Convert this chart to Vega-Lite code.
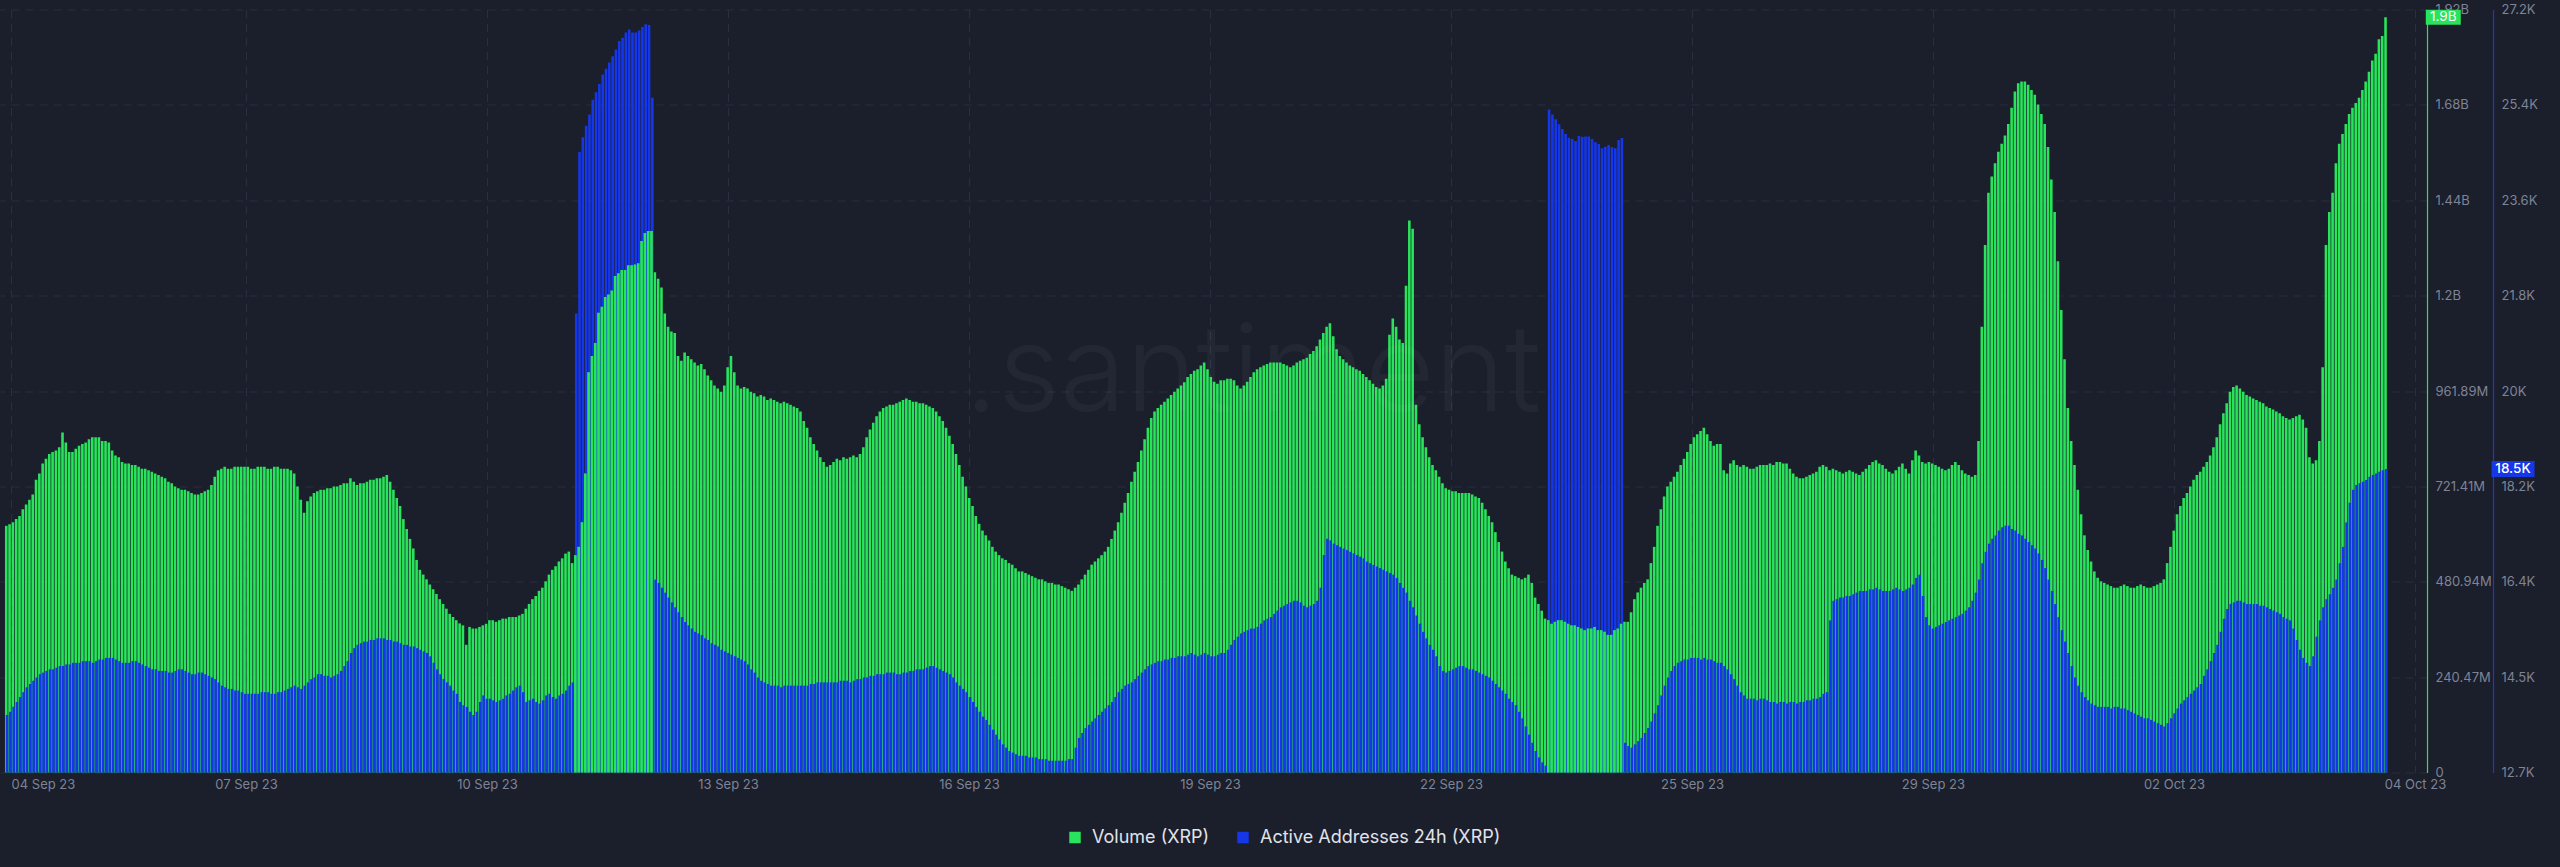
{
"$schema":"https://vega.github.io/schema/vega-lite/v6.json",
"width":2427,"height":763,
"autosize":{"type":"none"},
"padding":{"left":0,"top":9.5,"right":133,"bottom":94.5},
"background":"#1b1e2b",
"config":{"view":{"stroke":null},"font":"Inter",
 "legend":{"orient":"none","legendX":1066,"legendY":819,"direction":"horizontal","symbolType":"square","symbolSize":132,"symbolStrokeWidth":0,"labelFontSize":18,"labelColor":"#e0e3ea","labelFont":"Inter","labelLimit":400,"columnPadding":24,"labelOffset":8}},
"data":{"values":[
{"t":"2023-09-04T00:00","vol":622,"aa":13827},{"t":"2023-09-04T01:00","vol":626,"aa":13889},{"t":"2023-09-04T02:00","vol":631,"aa":13982},{"t":"2023-09-04T03:00","vol":639,"aa":14075},{"t":"2023-09-04T04:00","vol":647,"aa":14168},{"t":"2023-09-04T05:00","vol":664,"aa":14261},{"t":"2023-09-04T06:00","vol":676,"aa":14354},{"t":"2023-09-04T07:00","vol":688,"aa":14416},{"t":"2023-09-04T08:00","vol":701,"aa":14478},{"t":"2023-09-04T09:00","vol":738,"aa":14540},{"t":"2023-09-04T10:00","vol":754,"aa":14602},{"t":"2023-09-04T11:00","vol":779,"aa":14633},{"t":"2023-09-04T12:00","vol":791,"aa":14664},{"t":"2023-09-04T13:00","vol":803,"aa":14695},{"t":"2023-09-04T14:00","vol":808,"aa":14695},{"t":"2023-09-04T15:00","vol":812,"aa":14726},{"t":"2023-09-04T16:00","vol":820,"aa":14757},{"t":"2023-09-04T17:00","vol":857,"aa":14757},{"t":"2023-09-04T18:00","vol":832,"aa":14788},{"t":"2023-09-04T19:00","vol":808,"aa":14788},{"t":"2023-09-04T20:00","vol":808,"aa":14819},{"t":"2023-09-04T21:00","vol":816,"aa":14819},{"t":"2023-09-04T22:00","vol":824,"aa":14819},{"t":"2023-09-04T23:00","vol":828,"aa":14850},
{"t":"2023-09-05T00:00","vol":832,"aa":14850},{"t":"2023-09-05T01:00","vol":840,"aa":14850},{"t":"2023-09-05T02:00","vol":845,"aa":14819},{"t":"2023-09-05T03:00","vol":845,"aa":14850},{"t":"2023-09-05T04:00","vol":845,"aa":14881},{"t":"2023-09-05T05:00","vol":836,"aa":14881},{"t":"2023-09-05T06:00","vol":836,"aa":14912},{"t":"2023-09-05T07:00","vol":832,"aa":14912},{"t":"2023-09-05T08:00","vol":812,"aa":14912},{"t":"2023-09-05T09:00","vol":799,"aa":14881},{"t":"2023-09-05T10:00","vol":795,"aa":14850},{"t":"2023-09-05T11:00","vol":783,"aa":14819},{"t":"2023-09-05T12:00","vol":779,"aa":14819},{"t":"2023-09-05T13:00","vol":779,"aa":14819},{"t":"2023-09-05T14:00","vol":775,"aa":14850},{"t":"2023-09-05T15:00","vol":775,"aa":14850},{"t":"2023-09-05T16:00","vol":771,"aa":14819},{"t":"2023-09-05T17:00","vol":766,"aa":14788},{"t":"2023-09-05T18:00","vol":766,"aa":14757},{"t":"2023-09-05T19:00","vol":762,"aa":14726},{"t":"2023-09-05T20:00","vol":758,"aa":14695},{"t":"2023-09-05T21:00","vol":754,"aa":14695},{"t":"2023-09-05T22:00","vol":750,"aa":14664},{"t":"2023-09-05T23:00","vol":746,"aa":14664},
{"t":"2023-09-06T00:00","vol":742,"aa":14664},{"t":"2023-09-06T01:00","vol":733,"aa":14633},{"t":"2023-09-06T02:00","vol":729,"aa":14633},{"t":"2023-09-06T03:00","vol":721,"aa":14664},{"t":"2023-09-06T04:00","vol":717,"aa":14695},{"t":"2023-09-06T05:00","vol":713,"aa":14695},{"t":"2023-09-06T06:00","vol":713,"aa":14664},{"t":"2023-09-06T07:00","vol":709,"aa":14633},{"t":"2023-09-06T08:00","vol":705,"aa":14602},{"t":"2023-09-06T09:00","vol":701,"aa":14602},{"t":"2023-09-06T10:00","vol":701,"aa":14633},{"t":"2023-09-06T11:00","vol":705,"aa":14633},{"t":"2023-09-06T12:00","vol":709,"aa":14602},{"t":"2023-09-06T13:00","vol":713,"aa":14571},{"t":"2023-09-06T14:00","vol":725,"aa":14540},{"t":"2023-09-06T15:00","vol":746,"aa":14509},{"t":"2023-09-06T16:00","vol":762,"aa":14447},{"t":"2023-09-06T17:00","vol":766,"aa":14385},{"t":"2023-09-06T18:00","vol":771,"aa":14354},{"t":"2023-09-06T19:00","vol":766,"aa":14323},{"t":"2023-09-06T20:00","vol":766,"aa":14323},{"t":"2023-09-06T21:00","vol":771,"aa":14292},{"t":"2023-09-06T22:00","vol":771,"aa":14292},{"t":"2023-09-06T23:00","vol":771,"aa":14261},
{"t":"2023-09-07T00:00","vol":771,"aa":14230},{"t":"2023-09-07T01:00","vol":771,"aa":14230},{"t":"2023-09-07T02:00","vol":766,"aa":14230},{"t":"2023-09-07T03:00","vol":766,"aa":14230},{"t":"2023-09-07T04:00","vol":771,"aa":14230},{"t":"2023-09-07T05:00","vol":771,"aa":14261},{"t":"2023-09-07T06:00","vol":771,"aa":14261},{"t":"2023-09-07T07:00","vol":766,"aa":14261},{"t":"2023-09-07T08:00","vol":766,"aa":14230},{"t":"2023-09-07T09:00","vol":771,"aa":14230},{"t":"2023-09-07T10:00","vol":771,"aa":14261},{"t":"2023-09-07T11:00","vol":766,"aa":14261},{"t":"2023-09-07T12:00","vol":766,"aa":14292},{"t":"2023-09-07T13:00","vol":766,"aa":14323},{"t":"2023-09-07T14:00","vol":762,"aa":14354},{"t":"2023-09-07T15:00","vol":754,"aa":14385},{"t":"2023-09-07T16:00","vol":721,"aa":14354},{"t":"2023-09-07T17:00","vol":688,"aa":14323},{"t":"2023-09-07T18:00","vol":655,"aa":14385},{"t":"2023-09-07T19:00","vol":684,"aa":14447},{"t":"2023-09-07T20:00","vol":696,"aa":14509},{"t":"2023-09-07T21:00","vol":705,"aa":14540},{"t":"2023-09-07T22:00","vol":709,"aa":14602},{"t":"2023-09-07T23:00","vol":713,"aa":14602},
{"t":"2023-09-08T00:00","vol":713,"aa":14571},{"t":"2023-09-08T01:00","vol":717,"aa":14571},{"t":"2023-09-08T02:00","vol":717,"aa":14540},{"t":"2023-09-08T03:00","vol":721,"aa":14571},{"t":"2023-09-08T04:00","vol":721,"aa":14602},{"t":"2023-09-08T05:00","vol":725,"aa":14664},{"t":"2023-09-08T06:00","vol":729,"aa":14757},{"t":"2023-09-08T07:00","vol":729,"aa":14850},{"t":"2023-09-08T08:00","vol":742,"aa":15005},{"t":"2023-09-08T09:00","vol":733,"aa":15098},{"t":"2023-09-08T10:00","vol":725,"aa":15160},{"t":"2023-09-08T11:00","vol":729,"aa":15191},{"t":"2023-09-08T12:00","vol":729,"aa":15222},{"t":"2023-09-08T13:00","vol":733,"aa":15222},{"t":"2023-09-08T14:00","vol":738,"aa":15253},{"t":"2023-09-08T15:00","vol":738,"aa":15253},{"t":"2023-09-08T16:00","vol":742,"aa":15284},{"t":"2023-09-08T17:00","vol":742,"aa":15284},{"t":"2023-09-08T18:00","vol":746,"aa":15284},{"t":"2023-09-08T19:00","vol":750,"aa":15253},{"t":"2023-09-08T20:00","vol":733,"aa":15253},{"t":"2023-09-08T21:00","vol":713,"aa":15222},{"t":"2023-09-08T22:00","vol":692,"aa":15222},{"t":"2023-09-08T23:00","vol":672,"aa":15191},
{"t":"2023-09-09T00:00","vol":639,"aa":15160},{"t":"2023-09-09T01:00","vol":614,"aa":15160},{"t":"2023-09-09T02:00","vol":589,"aa":15129},{"t":"2023-09-09T03:00","vol":565,"aa":15129},{"t":"2023-09-09T04:00","vol":536,"aa":15098},{"t":"2023-09-09T05:00","vol":511,"aa":15067},{"t":"2023-09-09T06:00","vol":499,"aa":15036},{"t":"2023-09-09T07:00","vol":487,"aa":15005},{"t":"2023-09-09T08:00","vol":474,"aa":14943},{"t":"2023-09-09T09:00","vol":462,"aa":14819},{"t":"2023-09-09T10:00","vol":450,"aa":14695},{"t":"2023-09-09T11:00","vol":437,"aa":14602},{"t":"2023-09-09T12:00","vol":425,"aa":14509},{"t":"2023-09-09T13:00","vol":413,"aa":14447},{"t":"2023-09-09T14:00","vol":400,"aa":14385},{"t":"2023-09-09T15:00","vol":392,"aa":14292},{"t":"2023-09-09T16:00","vol":384,"aa":14230},{"t":"2023-09-09T17:00","vol":376,"aa":14075},{"t":"2023-09-09T18:00","vol":371,"aa":14013},{"t":"2023-09-09T19:00","vol":322,"aa":13982},{"t":"2023-09-09T20:00","vol":367,"aa":13889},{"t":"2023-09-09T21:00","vol":363,"aa":13827},{"t":"2023-09-09T22:00","vol":363,"aa":13889},{"t":"2023-09-09T23:00","vol":367,"aa":14075},
{"t":"2023-09-10T00:00","vol":371,"aa":14199},{"t":"2023-09-10T01:00","vol":375,"aa":14137},{"t":"2023-09-10T02:00","vol":384,"aa":14137},{"t":"2023-09-10T03:00","vol":384,"aa":14106},{"t":"2023-09-10T04:00","vol":380,"aa":14075},{"t":"2023-09-10T05:00","vol":384,"aa":14106},{"t":"2023-09-10T06:00","vol":388,"aa":14137},{"t":"2023-09-10T07:00","vol":388,"aa":14199},{"t":"2023-09-10T08:00","vol":392,"aa":14230},{"t":"2023-09-10T09:00","vol":392,"aa":14292},{"t":"2023-09-10T10:00","vol":392,"aa":14354},{"t":"2023-09-10T11:00","vol":396,"aa":14385},{"t":"2023-09-10T12:00","vol":400,"aa":14261},{"t":"2023-09-10T13:00","vol":413,"aa":14075},{"t":"2023-09-10T14:00","vol":425,"aa":14106},{"t":"2023-09-10T15:00","vol":437,"aa":14137},{"t":"2023-09-10T16:00","vol":445,"aa":14075},{"t":"2023-09-10T17:00","vol":458,"aa":14044},{"t":"2023-09-10T18:00","vol":466,"aa":14106},{"t":"2023-09-10T19:00","vol":482,"aa":14199},{"t":"2023-09-10T20:00","vol":499,"aa":14230},{"t":"2023-09-10T21:00","vol":511,"aa":14168},{"t":"2023-09-10T22:00","vol":520,"aa":14137},{"t":"2023-09-10T23:00","vol":532,"aa":14199},
{"t":"2023-09-11T00:00","vol":540,"aa":14230},{"t":"2023-09-11T01:00","vol":552,"aa":14292},{"t":"2023-09-11T02:00","vol":557,"aa":14385},{"t":"2023-09-11T03:00","vol":528,"aa":14447},{"t":"2023-09-11T04:00","vol":548,"aa":21455},{"t":"2023-09-11T05:00","vol":569,"aa":24525},{"t":"2023-09-11T06:00","vol":631,"aa":24804},{"t":"2023-09-11T07:00","vol":754,"aa":25021},{"t":"2023-09-11T08:00","vol":1009,"aa":25238},{"t":"2023-09-11T09:00","vol":1050,"aa":25517},{"t":"2023-09-11T10:00","vol":1083,"aa":25657},{"t":"2023-09-11T11:00","vol":1159,"aa":25815},{"t":"2023-09-11T12:00","vol":1174,"aa":25998},{"t":"2023-09-11T13:00","vol":1199,"aa":26107},{"t":"2023-09-11T14:00","vol":1205,"aa":26224},{"t":"2023-09-11T15:00","vol":1215,"aa":26345},{"t":"2023-09-11T16:00","vol":1252,"aa":26472},{"t":"2023-09-11T17:00","vol":1259,"aa":26631},{"t":"2023-09-11T18:00","vol":1267,"aa":26693},{"t":"2023-09-11T19:00","vol":1267,"aa":26795},{"t":"2023-09-11T20:00","vol":1279,"aa":26851},{"t":"2023-09-11T21:00","vol":1279,"aa":26795},{"t":"2023-09-11T22:00","vol":1281,"aa":26795},{"t":"2023-09-11T23:00","vol":1284,"aa":26832},
{"t":"2023-09-12T00:00","vol":1340,"aa":26897},{"t":"2023-09-12T01:00","vol":1360,"aa":26953},{"t":"2023-09-12T02:00","vol":1365,"aa":26935},{"t":"2023-09-12T03:00","vol":1365,"aa":25555},{"t":"2023-09-12T04:00","vol":1261,"aa":16400},{"t":"2023-09-12T05:00","vol":1245,"aa":16338},{"t":"2023-09-12T06:00","vol":1223,"aa":16245},{"t":"2023-09-12T07:00","vol":1157,"aa":16152},{"t":"2023-09-12T08:00","vol":1124,"aa":16059},{"t":"2023-09-12T09:00","vol":1112,"aa":15966},{"t":"2023-09-12T10:00","vol":1108,"aa":15873},{"t":"2023-09-12T11:00","vol":1050,"aa":15780},{"t":"2023-09-12T12:00","vol":1038,"aa":15687},{"t":"2023-09-12T13:00","vol":1059,"aa":15594},{"t":"2023-09-12T14:00","vol":1050,"aa":15532},{"t":"2023-09-12T15:00","vol":1042,"aa":15470},{"t":"2023-09-12T16:00","vol":1034,"aa":15408},{"t":"2023-09-12T17:00","vol":1026,"aa":15377},{"t":"2023-09-12T18:00","vol":1030,"aa":15346},{"t":"2023-09-12T19:00","vol":1017,"aa":15284},{"t":"2023-09-12T20:00","vol":1001,"aa":15253},{"t":"2023-09-12T21:00","vol":989,"aa":15191},{"t":"2023-09-12T22:00","vol":976,"aa":15160},{"t":"2023-09-12T23:00","vol":968,"aa":15129},
{"t":"2023-09-13T00:00","vol":960,"aa":15067},{"t":"2023-09-13T01:00","vol":976,"aa":15036},{"t":"2023-09-13T02:00","vol":1022,"aa":15005},{"t":"2023-09-13T03:00","vol":1050,"aa":14974},{"t":"2023-09-13T04:00","vol":1009,"aa":14943},{"t":"2023-09-13T05:00","vol":976,"aa":14912},{"t":"2023-09-13T06:00","vol":968,"aa":14881},{"t":"2023-09-13T07:00","vol":972,"aa":14850},{"t":"2023-09-13T08:00","vol":968,"aa":14788},{"t":"2023-09-13T09:00","vol":960,"aa":14695},{"t":"2023-09-13T10:00","vol":956,"aa":14633},{"t":"2023-09-13T11:00","vol":948,"aa":14540},{"t":"2023-09-13T12:00","vol":952,"aa":14478},{"t":"2023-09-13T13:00","vol":948,"aa":14447},{"t":"2023-09-13T14:00","vol":939,"aa":14416},{"t":"2023-09-13T15:00","vol":943,"aa":14385},{"t":"2023-09-13T16:00","vol":939,"aa":14385},{"t":"2023-09-13T17:00","vol":935,"aa":14385},{"t":"2023-09-13T18:00","vol":931,"aa":14354},{"t":"2023-09-13T19:00","vol":935,"aa":14385},{"t":"2023-09-13T20:00","vol":931,"aa":14385},{"t":"2023-09-13T21:00","vol":927,"aa":14385},{"t":"2023-09-13T22:00","vol":923,"aa":14385},{"t":"2023-09-13T23:00","vol":919,"aa":14385},
{"t":"2023-09-14T00:00","vol":910,"aa":14385},{"t":"2023-09-14T01:00","vol":886,"aa":14385},{"t":"2023-09-14T02:00","vol":869,"aa":14385},{"t":"2023-09-14T03:00","vol":845,"aa":14416},{"t":"2023-09-14T04:00","vol":828,"aa":14416},{"t":"2023-09-14T05:00","vol":812,"aa":14447},{"t":"2023-09-14T06:00","vol":795,"aa":14447},{"t":"2023-09-14T07:00","vol":783,"aa":14447},{"t":"2023-09-14T08:00","vol":771,"aa":14447},{"t":"2023-09-14T09:00","vol":775,"aa":14447},{"t":"2023-09-14T10:00","vol":783,"aa":14447},{"t":"2023-09-14T11:00","vol":791,"aa":14447},{"t":"2023-09-14T12:00","vol":787,"aa":14478},{"t":"2023-09-14T13:00","vol":795,"aa":14478},{"t":"2023-09-14T14:00","vol":791,"aa":14478},{"t":"2023-09-14T15:00","vol":795,"aa":14447},{"t":"2023-09-14T16:00","vol":799,"aa":14478},{"t":"2023-09-14T17:00","vol":795,"aa":14509},{"t":"2023-09-14T18:00","vol":803,"aa":14509},{"t":"2023-09-14T19:00","vol":820,"aa":14540},{"t":"2023-09-14T20:00","vol":845,"aa":14540},{"t":"2023-09-14T21:00","vol":865,"aa":14571},{"t":"2023-09-14T22:00","vol":882,"aa":14571},{"t":"2023-09-14T23:00","vol":898,"aa":14602},
{"t":"2023-09-15T00:00","vol":910,"aa":14602},{"t":"2023-09-15T01:00","vol":919,"aa":14602},{"t":"2023-09-15T02:00","vol":923,"aa":14633},{"t":"2023-09-15T03:00","vol":927,"aa":14633},{"t":"2023-09-15T04:00","vol":927,"aa":14633},{"t":"2023-09-15T05:00","vol":931,"aa":14602},{"t":"2023-09-15T06:00","vol":935,"aa":14602},{"t":"2023-09-15T07:00","vol":939,"aa":14633},{"t":"2023-09-15T08:00","vol":943,"aa":14633},{"t":"2023-09-15T09:00","vol":939,"aa":14664},{"t":"2023-09-15T10:00","vol":935,"aa":14664},{"t":"2023-09-15T11:00","vol":935,"aa":14695},{"t":"2023-09-15T12:00","vol":931,"aa":14695},{"t":"2023-09-15T13:00","vol":931,"aa":14695},{"t":"2023-09-15T14:00","vol":927,"aa":14726},{"t":"2023-09-15T15:00","vol":923,"aa":14757},{"t":"2023-09-15T16:00","vol":919,"aa":14757},{"t":"2023-09-15T17:00","vol":910,"aa":14726},{"t":"2023-09-15T18:00","vol":898,"aa":14695},{"t":"2023-09-15T19:00","vol":886,"aa":14664},{"t":"2023-09-15T20:00","vol":869,"aa":14633},{"t":"2023-09-15T21:00","vol":849,"aa":14602},{"t":"2023-09-15T22:00","vol":828,"aa":14540},{"t":"2023-09-15T23:00","vol":803,"aa":14447},
{"t":"2023-09-16T00:00","vol":775,"aa":14385},{"t":"2023-09-16T01:00","vol":746,"aa":14323},{"t":"2023-09-16T02:00","vol":721,"aa":14261},{"t":"2023-09-16T03:00","vol":692,"aa":14168},{"t":"2023-09-16T04:00","vol":672,"aa":14075},{"t":"2023-09-16T05:00","vol":647,"aa":13982},{"t":"2023-09-16T06:00","vol":627,"aa":13889},{"t":"2023-09-16T07:00","vol":610,"aa":13796},{"t":"2023-09-16T08:00","vol":598,"aa":13734},{"t":"2023-09-16T09:00","vol":585,"aa":13641},{"t":"2023-09-16T10:00","vol":569,"aa":13548},{"t":"2023-09-16T11:00","vol":557,"aa":13455},{"t":"2023-09-16T12:00","vol":548,"aa":13362},{"t":"2023-09-16T13:00","vol":540,"aa":13269},{"t":"2023-09-16T14:00","vol":536,"aa":13207},{"t":"2023-09-16T15:00","vol":528,"aa":13144},{"t":"2023-09-16T16:00","vol":524,"aa":13113},{"t":"2023-09-16T17:00","vol":515,"aa":13082},{"t":"2023-09-16T18:00","vol":507,"aa":13051},{"t":"2023-09-16T19:00","vol":507,"aa":13051},{"t":"2023-09-16T20:00","vol":503,"aa":13051},{"t":"2023-09-16T21:00","vol":499,"aa":13020},{"t":"2023-09-16T22:00","vol":495,"aa":13020},{"t":"2023-09-16T23:00","vol":491,"aa":13020},
{"t":"2023-09-17T00:00","vol":487,"aa":12989},{"t":"2023-09-17T01:00","vol":487,"aa":12989},{"t":"2023-09-17T02:00","vol":482,"aa":12989},{"t":"2023-09-17T03:00","vol":478,"aa":12958},{"t":"2023-09-17T04:00","vol":478,"aa":12958},{"t":"2023-09-17T05:00","vol":474,"aa":12958},{"t":"2023-09-17T06:00","vol":474,"aa":12958},{"t":"2023-09-17T07:00","vol":470,"aa":12958},{"t":"2023-09-17T08:00","vol":466,"aa":12958},{"t":"2023-09-17T09:00","vol":462,"aa":12989},{"t":"2023-09-17T10:00","vol":458,"aa":12989},{"t":"2023-09-17T11:00","vol":466,"aa":13206},{"t":"2023-09-17T12:00","vol":474,"aa":13392},{"t":"2023-09-17T13:00","vol":487,"aa":13486},{"t":"2023-09-17T14:00","vol":499,"aa":13579},{"t":"2023-09-17T15:00","vol":511,"aa":13641},{"t":"2023-09-17T16:00","vol":524,"aa":13703},{"t":"2023-09-17T17:00","vol":532,"aa":13765},{"t":"2023-09-17T18:00","vol":540,"aa":13827},{"t":"2023-09-17T19:00","vol":548,"aa":13889},{"t":"2023-09-17T20:00","vol":557,"aa":13951},{"t":"2023-09-17T21:00","vol":569,"aa":14013},{"t":"2023-09-17T22:00","vol":589,"aa":14075},{"t":"2023-09-17T23:00","vol":610,"aa":14168},
{"t":"2023-09-18T00:00","vol":631,"aa":14261},{"t":"2023-09-18T01:00","vol":655,"aa":14323},{"t":"2023-09-18T02:00","vol":680,"aa":14385},{"t":"2023-09-18T03:00","vol":705,"aa":14416},{"t":"2023-09-18T04:00","vol":733,"aa":14447},{"t":"2023-09-18T05:00","vol":758,"aa":14509},{"t":"2023-09-18T06:00","vol":783,"aa":14571},{"t":"2023-09-18T07:00","vol":812,"aa":14633},{"t":"2023-09-18T08:00","vol":840,"aa":14695},{"t":"2023-09-18T09:00","vol":869,"aa":14757},{"t":"2023-09-18T10:00","vol":894,"aa":14788},{"t":"2023-09-18T11:00","vol":910,"aa":14819},{"t":"2023-09-18T12:00","vol":919,"aa":14850},{"t":"2023-09-18T13:00","vol":927,"aa":14850},{"t":"2023-09-18T14:00","vol":935,"aa":14881},{"t":"2023-09-18T15:00","vol":943,"aa":14881},{"t":"2023-09-18T16:00","vol":952,"aa":14912},{"t":"2023-09-18T17:00","vol":960,"aa":14912},{"t":"2023-09-18T18:00","vol":968,"aa":14943},{"t":"2023-09-18T19:00","vol":976,"aa":14943},{"t":"2023-09-18T20:00","vol":984,"aa":14943},{"t":"2023-09-18T21:00","vol":997,"aa":14974},{"t":"2023-09-18T22:00","vol":1005,"aa":15005},{"t":"2023-09-18T23:00","vol":1013,"aa":14974},
{"t":"2023-09-19T00:00","vol":1017,"aa":14943},{"t":"2023-09-19T01:00","vol":1026,"aa":14974},{"t":"2023-09-19T02:00","vol":1034,"aa":15005},{"t":"2023-09-19T03:00","vol":1017,"aa":14974},{"t":"2023-09-19T04:00","vol":997,"aa":14943},{"t":"2023-09-19T05:00","vol":985,"aa":14943},{"t":"2023-09-19T06:00","vol":980,"aa":14974},{"t":"2023-09-19T07:00","vol":989,"aa":15005},{"t":"2023-09-19T08:00","vol":989,"aa":15005},{"t":"2023-09-19T09:00","vol":993,"aa":15067},{"t":"2023-09-19T10:00","vol":993,"aa":15160},{"t":"2023-09-19T11:00","vol":989,"aa":15253},{"t":"2023-09-19T12:00","vol":976,"aa":15315},{"t":"2023-09-19T13:00","vol":968,"aa":15377},{"t":"2023-09-19T14:00","vol":976,"aa":15408},{"t":"2023-09-19T15:00","vol":985,"aa":15439},{"t":"2023-09-19T16:00","vol":997,"aa":15470},{"t":"2023-09-19T17:00","vol":1009,"aa":15470},{"t":"2023-09-19T18:00","vol":1017,"aa":15501},{"t":"2023-09-19T19:00","vol":1022,"aa":15563},{"t":"2023-09-19T20:00","vol":1026,"aa":15625},{"t":"2023-09-19T21:00","vol":1030,"aa":15656},{"t":"2023-09-19T22:00","vol":1034,"aa":15687},{"t":"2023-09-19T23:00","vol":1034,"aa":15749},
{"t":"2023-09-20T00:00","vol":1034,"aa":15811},{"t":"2023-09-20T01:00","vol":1034,"aa":15873},{"t":"2023-09-20T02:00","vol":1030,"aa":15904},{"t":"2023-09-20T03:00","vol":1026,"aa":15935},{"t":"2023-09-20T04:00","vol":1022,"aa":15966},{"t":"2023-09-20T05:00","vol":1026,"aa":15997},{"t":"2023-09-20T06:00","vol":1034,"aa":15997},{"t":"2023-09-20T07:00","vol":1038,"aa":15966},{"t":"2023-09-20T08:00","vol":1042,"aa":15904},{"t":"2023-09-20T09:00","vol":1046,"aa":15873},{"t":"2023-09-20T10:00","vol":1055,"aa":15904},{"t":"2023-09-20T11:00","vol":1063,"aa":15935},{"t":"2023-09-20T12:00","vol":1075,"aa":15997},{"t":"2023-09-20T13:00","vol":1092,"aa":16245},{"t":"2023-09-20T14:00","vol":1108,"aa":16866},{"t":"2023-09-20T15:00","vol":1124,"aa":17176},{"t":"2023-09-20T16:00","vol":1133,"aa":17145},{"t":"2023-09-20T17:00","vol":1100,"aa":17083},{"t":"2023-09-20T18:00","vol":1067,"aa":17052},{"t":"2023-09-20T19:00","vol":1050,"aa":17021},{"t":"2023-09-20T20:00","vol":1042,"aa":16990},{"t":"2023-09-20T21:00","vol":1034,"aa":16959},{"t":"2023-09-20T22:00","vol":1026,"aa":16928},{"t":"2023-09-20T23:00","vol":1022,"aa":16897},
{"t":"2023-09-21T00:00","vol":1017,"aa":16866},{"t":"2023-09-21T01:00","vol":1013,"aa":16835},{"t":"2023-09-21T02:00","vol":1005,"aa":16804},{"t":"2023-09-21T03:00","vol":997,"aa":16742},{"t":"2023-09-21T04:00","vol":989,"aa":16711},{"t":"2023-09-21T05:00","vol":980,"aa":16680},{"t":"2023-09-21T06:00","vol":972,"aa":16649},{"t":"2023-09-21T07:00","vol":968,"aa":16618},{"t":"2023-09-21T08:00","vol":976,"aa":16587},{"t":"2023-09-21T09:00","vol":993,"aa":16555},{"t":"2023-09-21T10:00","vol":1104,"aa":16524},{"t":"2023-09-21T11:00","vol":1145,"aa":16493},{"t":"2023-09-21T12:00","vol":1124,"aa":16431},{"t":"2023-09-21T13:00","vol":1092,"aa":16338},{"t":"2023-09-21T14:00","vol":1083,"aa":16245},{"t":"2023-09-21T15:00","vol":1227,"aa":16152},{"t":"2023-09-21T16:00","vol":1392,"aa":15997},{"t":"2023-09-21T17:00","vol":1371,"aa":15873},{"t":"2023-09-21T18:00","vol":927,"aa":15718},{"t":"2023-09-21T19:00","vol":878,"aa":15563},{"t":"2023-09-21T20:00","vol":845,"aa":15408},{"t":"2023-09-21T21:00","vol":820,"aa":15284},{"t":"2023-09-21T22:00","vol":795,"aa":15160},{"t":"2023-09-21T23:00","vol":775,"aa":15067},
{"t":"2023-09-22T00:00","vol":762,"aa":14943},{"t":"2023-09-22T01:00","vol":746,"aa":14757},{"t":"2023-09-22T02:00","vol":729,"aa":14664},{"t":"2023-09-22T03:00","vol":717,"aa":14633},{"t":"2023-09-22T04:00","vol":713,"aa":14664},{"t":"2023-09-22T05:00","vol":709,"aa":14695},{"t":"2023-09-22T06:00","vol":709,"aa":14726},{"t":"2023-09-22T07:00","vol":705,"aa":14757},{"t":"2023-09-22T08:00","vol":705,"aa":14757},{"t":"2023-09-22T09:00","vol":705,"aa":14726},{"t":"2023-09-22T10:00","vol":705,"aa":14695},{"t":"2023-09-22T11:00","vol":701,"aa":14695},{"t":"2023-09-22T12:00","vol":696,"aa":14664},{"t":"2023-09-22T13:00","vol":692,"aa":14633},{"t":"2023-09-22T14:00","vol":680,"aa":14602},{"t":"2023-09-22T15:00","vol":664,"aa":14571},{"t":"2023-09-22T16:00","vol":647,"aa":14540},{"t":"2023-09-22T17:00","vol":631,"aa":14478},{"t":"2023-09-22T18:00","vol":606,"aa":14416},{"t":"2023-09-22T19:00","vol":581,"aa":14354},{"t":"2023-09-22T20:00","vol":557,"aa":14292},{"t":"2023-09-22T21:00","vol":532,"aa":14230},{"t":"2023-09-22T22:00","vol":515,"aa":14137},{"t":"2023-09-22T23:00","vol":499,"aa":14075},
{"t":"2023-09-23T00:00","vol":495,"aa":14013},{"t":"2023-09-23T01:00","vol":491,"aa":13889},{"t":"2023-09-23T02:00","vol":487,"aa":13765},{"t":"2023-09-23T03:00","vol":491,"aa":13610},{"t":"2023-09-23T04:00","vol":499,"aa":13455},{"t":"2023-09-23T05:00","vol":478,"aa":13300},{"t":"2023-09-23T06:00","vol":441,"aa":13144},{"t":"2023-09-23T07:00","vol":425,"aa":13020},{"t":"2023-09-23T08:00","vol":408,"aa":12927},{"t":"2023-09-23T09:00","vol":388,"aa":12865},{"t":"2023-09-23T10:00","vol":384,"aa":25332},{"t":"2023-09-23T11:00","vol":375,"aa":25238},{"t":"2023-09-23T12:00","vol":380,"aa":25145},{"t":"2023-09-23T13:00","vol":384,"aa":25052},{"t":"2023-09-23T14:00","vol":384,"aa":24959},{"t":"2023-09-23T15:00","vol":380,"aa":24866},{"t":"2023-09-23T16:00","vol":375,"aa":24795},{"t":"2023-09-23T17:00","vol":371,"aa":24773},{"t":"2023-09-23T18:00","vol":371,"aa":24733},{"t":"2023-09-23T19:00","vol":367,"aa":24826},{"t":"2023-09-23T20:00","vol":363,"aa":24813},{"t":"2023-09-23T21:00","vol":359,"aa":24820},{"t":"2023-09-23T22:00","vol":363,"aa":24820},{"t":"2023-09-23T23:00","vol":363,"aa":24773},
{"t":"2023-09-24T00:00","vol":367,"aa":24711},{"t":"2023-09-24T01:00","vol":359,"aa":24674},{"t":"2023-09-24T02:00","vol":359,"aa":24593},{"t":"2023-09-24T03:00","vol":355,"aa":24624},{"t":"2023-09-24T04:00","vol":347,"aa":24655},{"t":"2023-09-24T05:00","vol":347,"aa":24612},{"t":"2023-09-24T06:00","vol":359,"aa":24593},{"t":"2023-09-24T07:00","vol":363,"aa":24751},{"t":"2023-09-24T08:00","vol":375,"aa":24789},{"t":"2023-09-24T09:00","vol":380,"aa":13300},{"t":"2023-09-24T10:00","vol":380,"aa":13238},{"t":"2023-09-24T11:00","vol":404,"aa":13207},{"t":"2023-09-24T12:00","vol":437,"aa":13269},{"t":"2023-09-24T13:00","vol":454,"aa":13331},{"t":"2023-09-24T14:00","vol":466,"aa":13393},{"t":"2023-09-24T15:00","vol":478,"aa":13486},{"t":"2023-09-24T16:00","vol":487,"aa":13579},{"t":"2023-09-24T17:00","vol":528,"aa":13703},{"t":"2023-09-24T18:00","vol":569,"aa":13858},{"t":"2023-09-24T19:00","vol":622,"aa":14013},{"t":"2023-09-24T20:00","vol":664,"aa":14199},{"t":"2023-09-24T21:00","vol":696,"aa":14385},{"t":"2023-09-24T22:00","vol":721,"aa":14540},{"t":"2023-09-24T23:00","vol":733,"aa":14664},
{"t":"2023-09-25T00:00","vol":746,"aa":14757},{"t":"2023-09-25T01:00","vol":758,"aa":14819},{"t":"2023-09-25T02:00","vol":775,"aa":14850},{"t":"2023-09-25T03:00","vol":791,"aa":14881},{"t":"2023-09-25T04:00","vol":808,"aa":14881},{"t":"2023-09-25T05:00","vol":828,"aa":14912},{"t":"2023-09-25T06:00","vol":845,"aa":14912},{"t":"2023-09-25T07:00","vol":853,"aa":14912},{"t":"2023-09-25T08:00","vol":861,"aa":14881},{"t":"2023-09-25T09:00","vol":869,"aa":14912},{"t":"2023-09-25T10:00","vol":853,"aa":14881},{"t":"2023-09-25T11:00","vol":836,"aa":14881},{"t":"2023-09-25T12:00","vol":824,"aa":14850},{"t":"2023-09-25T13:00","vol":828,"aa":14819},{"t":"2023-09-25T14:00","vol":828,"aa":14819},{"t":"2023-09-25T15:00","vol":762,"aa":14757},{"t":"2023-09-25T16:00","vol":754,"aa":14695},{"t":"2023-09-25T17:00","vol":779,"aa":14602},{"t":"2023-09-25T18:00","vol":787,"aa":14509},{"t":"2023-09-25T19:00","vol":775,"aa":14385},{"t":"2023-09-25T20:00","vol":771,"aa":14261},{"t":"2023-09-25T21:00","vol":775,"aa":14199},{"t":"2023-09-25T22:00","vol":771,"aa":14137},{"t":"2023-09-25T23:00","vol":766,"aa":14137},
{"t":"2023-09-26T00:00","vol":766,"aa":14137},{"t":"2023-09-26T01:00","vol":771,"aa":14106},{"t":"2023-09-26T02:00","vol":775,"aa":14137},{"t":"2023-09-26T03:00","vol":775,"aa":14137},{"t":"2023-09-26T04:00","vol":775,"aa":14106},{"t":"2023-09-26T05:00","vol":779,"aa":14075},{"t":"2023-09-26T06:00","vol":775,"aa":14075},{"t":"2023-09-26T07:00","vol":783,"aa":14044},{"t":"2023-09-26T08:00","vol":783,"aa":14075},{"t":"2023-09-26T09:00","vol":779,"aa":14075},{"t":"2023-09-26T10:00","vol":779,"aa":14044},{"t":"2023-09-26T11:00","vol":766,"aa":14075},{"t":"2023-09-26T12:00","vol":754,"aa":14075},{"t":"2023-09-26T13:00","vol":746,"aa":14044},{"t":"2023-09-26T14:00","vol":742,"aa":14075},{"t":"2023-09-26T15:00","vol":742,"aa":14075},{"t":"2023-09-26T16:00","vol":746,"aa":14106},{"t":"2023-09-26T17:00","vol":750,"aa":14106},{"t":"2023-09-26T18:00","vol":754,"aa":14137},{"t":"2023-09-26T19:00","vol":758,"aa":14137},{"t":"2023-09-26T20:00","vol":771,"aa":14168},{"t":"2023-09-26T21:00","vol":775,"aa":14230},{"t":"2023-09-26T22:00","vol":771,"aa":14261},{"t":"2023-09-26T23:00","vol":762,"aa":15625},
{"t":"2023-09-27T00:00","vol":766,"aa":15997},{"t":"2023-09-27T01:00","vol":762,"aa":16028},{"t":"2023-09-27T02:00","vol":758,"aa":16059},{"t":"2023-09-27T03:00","vol":754,"aa":16059},{"t":"2023-09-27T04:00","vol":758,"aa":16090},{"t":"2023-09-27T05:00","vol":762,"aa":16090},{"t":"2023-09-27T06:00","vol":758,"aa":16121},{"t":"2023-09-27T07:00","vol":754,"aa":16152},{"t":"2023-09-27T08:00","vol":750,"aa":16183},{"t":"2023-09-27T09:00","vol":758,"aa":16183},{"t":"2023-09-27T10:00","vol":766,"aa":16183},{"t":"2023-09-27T11:00","vol":775,"aa":16214},{"t":"2023-09-27T12:00","vol":783,"aa":16214},{"t":"2023-09-27T13:00","vol":787,"aa":16245},{"t":"2023-09-27T14:00","vol":779,"aa":16214},{"t":"2023-09-27T15:00","vol":775,"aa":16183},{"t":"2023-09-27T16:00","vol":766,"aa":16183},{"t":"2023-09-27T17:00","vol":758,"aa":16183},{"t":"2023-09-27T18:00","vol":754,"aa":16214},{"t":"2023-09-27T19:00","vol":762,"aa":16245},{"t":"2023-09-27T20:00","vol":771,"aa":16214},{"t":"2023-09-27T21:00","vol":779,"aa":16183},{"t":"2023-09-27T22:00","vol":766,"aa":16214},{"t":"2023-09-27T23:00","vol":754,"aa":16245},
{"t":"2023-09-28T00:00","vol":787,"aa":16307},{"t":"2023-09-28T01:00","vol":812,"aa":16431},{"t":"2023-09-28T02:00","vol":799,"aa":16493},{"t":"2023-09-28T03:00","vol":783,"aa":16090},{"t":"2023-09-28T04:00","vol":779,"aa":15687},{"t":"2023-09-28T05:00","vol":783,"aa":15532},{"t":"2023-09-28T06:00","vol":779,"aa":15470},{"t":"2023-09-28T07:00","vol":775,"aa":15501},{"t":"2023-09-28T08:00","vol":771,"aa":15532},{"t":"2023-09-28T09:00","vol":766,"aa":15563},{"t":"2023-09-28T10:00","vol":762,"aa":15594},{"t":"2023-09-28T11:00","vol":766,"aa":15625},{"t":"2023-09-28T12:00","vol":775,"aa":15656},{"t":"2023-09-28T13:00","vol":783,"aa":15687},{"t":"2023-09-28T14:00","vol":775,"aa":15718},{"t":"2023-09-28T15:00","vol":762,"aa":15749},{"t":"2023-09-28T16:00","vol":754,"aa":15811},{"t":"2023-09-28T17:00","vol":750,"aa":15873},{"t":"2023-09-28T18:00","vol":746,"aa":15997},{"t":"2023-09-28T19:00","vol":750,"aa":16152},{"t":"2023-09-28T20:00","vol":836,"aa":16400},{"t":"2023-09-28T21:00","vol":1124,"aa":16710},{"t":"2023-09-28T22:00","vol":1330,"aa":16928},{"t":"2023-09-28T23:00","vol":1462,"aa":17083},
{"t":"2023-09-29T00:00","vol":1503,"aa":17176},{"t":"2023-09-29T01:00","vol":1536,"aa":17238},{"t":"2023-09-29T02:00","vol":1565,"aa":17331},{"t":"2023-09-29T03:00","vol":1585,"aa":17393},{"t":"2023-09-29T04:00","vol":1606,"aa":17424},{"t":"2023-09-29T05:00","vol":1635,"aa":17424},{"t":"2023-09-29T06:00","vol":1676,"aa":17362},{"t":"2023-09-29T07:00","vol":1717,"aa":17331},{"t":"2023-09-29T08:00","vol":1738,"aa":17269},{"t":"2023-09-29T09:00","vol":1742,"aa":17238},{"t":"2023-09-29T10:00","vol":1742,"aa":17176},{"t":"2023-09-29T11:00","vol":1734,"aa":17114},{"t":"2023-09-29T12:00","vol":1721,"aa":17052},{"t":"2023-09-29T13:00","vol":1709,"aa":16990},{"t":"2023-09-29T14:00","vol":1684,"aa":16897},{"t":"2023-09-29T15:00","vol":1660,"aa":16773},{"t":"2023-09-29T16:00","vol":1635,"aa":16618},{"t":"2023-09-29T17:00","vol":1577,"aa":16400},{"t":"2023-09-29T18:00","vol":1495,"aa":16183},{"t":"2023-09-29T19:00","vol":1413,"aa":15935},{"t":"2023-09-29T20:00","vol":1289,"aa":15687},{"t":"2023-09-29T21:00","vol":1166,"aa":15439},{"t":"2023-09-29T22:00","vol":1042,"aa":15222},{"t":"2023-09-29T23:00","vol":919,"aa":15005},
{"t":"2023-09-30T00:00","vol":836,"aa":14757},{"t":"2023-09-30T01:00","vol":775,"aa":14540},{"t":"2023-09-30T02:00","vol":713,"aa":14385},{"t":"2023-09-30T03:00","vol":651,"aa":14261},{"t":"2023-09-30T04:00","vol":598,"aa":14168},{"t":"2023-09-30T05:00","vol":561,"aa":14106},{"t":"2023-09-30T06:00","vol":532,"aa":14044},{"t":"2023-09-30T07:00","vol":507,"aa":14013},{"t":"2023-09-30T08:00","vol":491,"aa":13982},{"t":"2023-09-30T09:00","vol":482,"aa":13982},{"t":"2023-09-30T10:00","vol":478,"aa":13982},{"t":"2023-09-30T11:00","vol":474,"aa":13982},{"t":"2023-09-30T12:00","vol":470,"aa":13951},{"t":"2023-09-30T13:00","vol":466,"aa":13982},{"t":"2023-09-30T14:00","vol":466,"aa":13982},{"t":"2023-09-30T15:00","vol":470,"aa":13951},{"t":"2023-09-30T16:00","vol":474,"aa":13951},{"t":"2023-09-30T17:00","vol":470,"aa":13920},{"t":"2023-09-30T18:00","vol":466,"aa":13889},{"t":"2023-09-30T19:00","vol":466,"aa":13858},{"t":"2023-09-30T20:00","vol":470,"aa":13827},{"t":"2023-09-30T21:00","vol":474,"aa":13796},{"t":"2023-09-30T22:00","vol":470,"aa":13765},{"t":"2023-09-30T23:00","vol":466,"aa":13765},
{"t":"2023-10-01T00:00","vol":466,"aa":13734},{"t":"2023-10-01T01:00","vol":470,"aa":13703},{"t":"2023-10-01T02:00","vol":474,"aa":13672},{"t":"2023-10-01T03:00","vol":478,"aa":13641},{"t":"2023-10-01T04:00","vol":487,"aa":13610},{"t":"2023-10-01T05:00","vol":528,"aa":13672},{"t":"2023-10-01T06:00","vol":569,"aa":13765},{"t":"2023-10-01T07:00","vol":610,"aa":13858},{"t":"2023-10-01T08:00","vol":651,"aa":13951},{"t":"2023-10-01T09:00","vol":672,"aa":14044},{"t":"2023-10-01T10:00","vol":692,"aa":14106},{"t":"2023-10-01T11:00","vol":705,"aa":14168},{"t":"2023-10-01T12:00","vol":721,"aa":14230},{"t":"2023-10-01T13:00","vol":738,"aa":14292},{"t":"2023-10-01T14:00","vol":750,"aa":14354},{"t":"2023-10-01T15:00","vol":758,"aa":14416},{"t":"2023-10-01T16:00","vol":771,"aa":14571},{"t":"2023-10-01T17:00","vol":783,"aa":14695},{"t":"2023-10-01T18:00","vol":799,"aa":14850},{"t":"2023-10-01T19:00","vol":820,"aa":15005},{"t":"2023-10-01T20:00","vol":845,"aa":15160},{"t":"2023-10-01T21:00","vol":878,"aa":15408},{"t":"2023-10-01T22:00","vol":906,"aa":15656},{"t":"2023-10-01T23:00","vol":931,"aa":15842},
{"t":"2023-10-02T00:00","vol":960,"aa":15935},{"t":"2023-10-02T01:00","vol":972,"aa":15966},{"t":"2023-10-02T02:00","vol":976,"aa":15997},{"t":"2023-10-02T03:00","vol":968,"aa":15997},{"t":"2023-10-02T04:00","vol":960,"aa":15966},{"t":"2023-10-02T05:00","vol":952,"aa":15935},{"t":"2023-10-02T06:00","vol":948,"aa":15935},{"t":"2023-10-02T07:00","vol":943,"aa":15935},{"t":"2023-10-02T08:00","vol":939,"aa":15935},{"t":"2023-10-02T09:00","vol":935,"aa":15904},{"t":"2023-10-02T10:00","vol":931,"aa":15904},{"t":"2023-10-02T11:00","vol":923,"aa":15873},{"t":"2023-10-02T12:00","vol":919,"aa":15842},{"t":"2023-10-02T13:00","vol":915,"aa":15811},{"t":"2023-10-02T14:00","vol":910,"aa":15780},{"t":"2023-10-02T15:00","vol":906,"aa":15749},{"t":"2023-10-02T16:00","vol":898,"aa":15687},{"t":"2023-10-02T17:00","vol":894,"aa":15656},{"t":"2023-10-02T18:00","vol":890,"aa":15625},{"t":"2023-10-02T19:00","vol":894,"aa":15470},{"t":"2023-10-02T20:00","vol":898,"aa":15253},{"t":"2023-10-02T21:00","vol":902,"aa":15067},{"t":"2023-10-02T22:00","vol":890,"aa":14912},{"t":"2023-10-02T23:00","vol":869,"aa":14819},
{"t":"2023-10-03T00:00","vol":795,"aa":14757},{"t":"2023-10-03T01:00","vol":779,"aa":14943},{"t":"2023-10-03T02:00","vol":787,"aa":15315},{"t":"2023-10-03T03:00","vol":836,"aa":15625},{"t":"2023-10-03T04:00","vol":1022,"aa":15873},{"t":"2023-10-03T05:00","vol":1330,"aa":16028},{"t":"2023-10-03T06:00","vol":1413,"aa":16121},{"t":"2023-10-03T07:00","vol":1462,"aa":16245},{"t":"2023-10-03T08:00","vol":1536,"aa":16400},{"t":"2023-10-03T09:00","vol":1585,"aa":16710},{"t":"2023-10-03T10:00","vol":1610,"aa":17021},{"t":"2023-10-03T11:00","vol":1635,"aa":17486},{"t":"2023-10-03T12:00","vol":1660,"aa":17858},{"t":"2023-10-03T13:00","vol":1676,"aa":18106},{"t":"2023-10-03T14:00","vol":1688,"aa":18199},{"t":"2023-10-03T15:00","vol":1701,"aa":18230},{"t":"2023-10-03T16:00","vol":1721,"aa":18261},{"t":"2023-10-03T17:00","vol":1742,"aa":18292},{"t":"2023-10-03T18:00","vol":1767,"aa":18354},{"t":"2023-10-03T19:00","vol":1795,"aa":18385},{"t":"2023-10-03T20:00","vol":1812,"aa":18416},{"t":"2023-10-03T21:00","vol":1849,"aa":18447},{"t":"2023-10-03T22:00","vol":1857,"aa":18478},{"t":"2023-10-03T23:00","vol":1904,"aa":18500}
]},
"layer":[
{"mark":{"type":"bar","width":2.6,"xOffset":-0.4},
 "encoding":{
  "x":{"field":"t","type":"temporal",
   "scale":{"domain":[{"year":2023,"month":"sep","date":3,"hours":23,"minutes":30},{"year":2023,"month":"oct","date":4,"hours":9,"minutes":54}]},
   "axis":{"title":null,"orient":"bottom","domain":false,"ticks":false,"grid":true,"gridColor":"#2a2e3e","gridDash":[8,6],"labelColor":"#7d8496","labelFontSize":13,"labelFont":"Inter","labelPadding":6,
    "labelAlign":{"condition":{"test":"datum.index == 0","value":"left"},"value":"center"},
    "values":[{"year":2023,"month":"sep","date":4,"hours":1,"minutes":20},{"year":2023,"month":"sep","date":7,"hours":0,"minutes":20},{"year":2023,"month":"sep","date":10,"hours":1,"minutes":9},{"year":2023,"month":"sep","date":13,"hours":1,"minutes":59},{"year":2023,"month":"sep","date":16,"hours":2,"minutes":48},{"year":2023,"month":"sep","date":19,"hours":3,"minutes":38},{"year":2023,"month":"sep","date":22,"hours":4,"minutes":28},{"year":2023,"month":"sep","date":25,"hours":5,"minutes":17},{"year":2023,"month":"sep","date":28,"hours":6,"minutes":6},{"year":2023,"month":"oct","date":1,"hours":6,"minutes":56},{"year":2023,"month":"oct","date":4,"hours":7,"minutes":46}],
    "labelExpr":"timeFormat(datum.value,'%d %b %y') == '28 Sep 23' ? '29 Sep 23' : timeFormat(datum.value,'%d %b %y') == '01 Oct 23' ? '02 Oct 23' : timeFormat(datum.value,'%d %b %y')"}},
  "y":{"field":"vol","type":"quantitative","scale":{"domain":[0,1923.78],"nice":false},
   "axis":{"title":null,"orient":"right","values":[0,240.47,480.94,721.41,961.89,1202.36,1442.83,1683.3,1923.78],"labelExpr":"datum.value == 0 ? '0' : datum.value >= 1000 ? format(datum.value/1000,'.2~f') + 'B' : format(datum.value,'.2f') + 'M'","grid":true,"gridColor":"#2a2e3e","gridDash":[8,6],"domain":true,"domainColor":"#28e35b","domainWidth":1.2,"ticks":false,"labelColor":"#7d8496","labelFontSize":13,"labelFont":"Inter","labelPadding":8}},
  "color":{"datum":"Volume (XRP)","type":"nominal","scale":{"domain":["Volume (XRP)","Active Addresses 24h (XRP)"],"range":["#28e35b","#1637e8"]},"legend":{"title":null}}
 }},
{"mark":{"type":"bar","width":2.6,"xOffset":0.4},
 "encoding":{
  "x":{"field":"t","type":"temporal","scale":{"domain":[{"year":2023,"month":"sep","date":3,"hours":23,"minutes":30},{"year":2023,"month":"oct","date":4,"hours":9,"minutes":54}]}},
  "y":{"field":"aa","type":"quantitative","scale":{"domain":[12735,27231],"nice":false,"zero":false},
   "axis":{"title":null,"orient":"right","offset":66,"values":[12735,14547,16359,18171,19983,21795,23607,25419,27231],"labelExpr":"replace(format(datum.value,'.3~s'),'k','K')","grid":false,"domain":true,"domainColor":"#1637e8","domainWidth":1.2,"ticks":false,"labelColor":"#7d8496","labelFontSize":13,"labelFont":"Inter","labelPadding":8}},
  "y2":{"datum":12735},
  "color":{"datum":"Active Addresses 24h (XRP)","type":"nominal","scale":{"domain":["Volume (XRP)","Active Addresses 24h (XRP)"],"range":["#28e35b","#1637e8"]},"legend":{"title":null}}
 }},
{"transform":[{"filter":"datum.vol / 1923.78 < (datum.aa - 12735) / 14496"}],
 "mark":{"type":"bar","width":2.6,"xOffset":-0.4},
 "encoding":{
  "x":{"field":"t","type":"temporal","scale":{"domain":[{"year":2023,"month":"sep","date":3,"hours":23,"minutes":30},{"year":2023,"month":"oct","date":4,"hours":9,"minutes":54}]}},
  "y":{"field":"vol","type":"quantitative","scale":{"domain":[0,1923.78],"nice":false},"axis":null},
  "color":{"datum":"Volume (XRP)","type":"nominal","scale":{"domain":["Volume (XRP)","Active Addresses 24h (XRP)"],"range":["#28e35b","#1637e8"]},"legend":{"title":null}}
 }},
{"transform":[{"window":[{"op":"row_number","as":"rn"}],"sort":[{"field":"t","order":"descending"}]},{"filter":"datum.rn == 1"}],
 "mark":{"type":"rect","width":35,"height":15,"color":"#28e35b"},
 "encoding":{
  "x":{"datum":{"year":2023,"month":"oct","date":4,"hours":16,"minutes":20},"type":"temporal","scale":{"domain":[{"year":2023,"month":"sep","date":3,"hours":23,"minutes":30},{"year":2023,"month":"oct","date":4,"hours":9,"minutes":54}]}},
  "y":{"field":"vol","type":"quantitative","scale":{"domain":[0,1923.78],"nice":false},"axis":null}
 }},
{"transform":[{"window":[{"op":"row_number","as":"rn"}],"sort":[{"field":"t","order":"descending"}]},{"filter":"datum.rn == 1"}],
 "mark":{"type":"text","color":"#ffffff","fontSize":13.5,"font":"Inter","align":"center","baseline":"middle","text":{"expr":"format(datum.vol/1000,'.1f') + 'B'"}},
 "encoding":{
  "x":{"datum":{"year":2023,"month":"oct","date":4,"hours":16,"minutes":20},"type":"temporal","scale":{"domain":[{"year":2023,"month":"sep","date":3,"hours":23,"minutes":30},{"year":2023,"month":"oct","date":4,"hours":9,"minutes":54}]}},
  "y":{"field":"vol","type":"quantitative","scale":{"domain":[0,1923.78],"nice":false},"axis":null}
 }},
{"transform":[{"window":[{"op":"row_number","as":"rn"}],"sort":[{"field":"t","order":"descending"}]},{"filter":"datum.rn == 1"}],
 "mark":{"type":"rect","width":43,"height":16,"color":"#1637e8"},
 "encoding":{
  "x":{"datum":{"year":2023,"month":"oct","date":5,"hours":13,"minutes":24},"type":"temporal","scale":{"domain":[{"year":2023,"month":"sep","date":3,"hours":23,"minutes":30},{"year":2023,"month":"oct","date":4,"hours":9,"minutes":54}]}},
  "y":{"field":"aa","type":"quantitative","scale":{"domain":[12735,27231],"nice":false,"zero":false},"axis":null}
 }},
{"transform":[{"window":[{"op":"row_number","as":"rn"}],"sort":[{"field":"t","order":"descending"}]},{"filter":"datum.rn == 1"}],
 "mark":{"type":"text","color":"#ffffff","fontSize":13.5,"font":"Inter","fontWeight":500,"align":"center","baseline":"middle","text":{"expr":"format(datum.aa/1000,'.1f') + 'K'"}},
 "encoding":{
  "x":{"datum":{"year":2023,"month":"oct","date":5,"hours":13,"minutes":24},"type":"temporal","scale":{"domain":[{"year":2023,"month":"sep","date":3,"hours":23,"minutes":30},{"year":2023,"month":"oct","date":4,"hours":9,"minutes":54}]}},
  "y":{"field":"aa","type":"quantitative","scale":{"domain":[12735,27231],"nice":false,"zero":false},"axis":null}
 }},
{"transform":[{"window":[{"op":"row_number","as":"rn"}],"sort":[{"field":"t","order":"descending"}]},{"filter":"datum.rn == 1"}],
 "mark":{"type":"text","color":"#ffffff","opacity":0.035,"fontSize":120,"font":"Inter","fontWeight":300,"align":"center","baseline":"middle","text":".santiment"},
 "encoding":{
  "x":{"datum":{"year":2023,"month":"sep","date":19,"hours":16,"minutes":30},"type":"temporal","scale":{"domain":[{"year":2023,"month":"sep","date":3,"hours":23,"minutes":30},{"year":2023,"month":"oct","date":4,"hours":9,"minutes":54}]}},
  "y":{"datum":1002,"type":"quantitative","scale":{"domain":[0,1923.78],"nice":false},"axis":null}
 }}
],
"resolve":{"scale":{"y":"independent"},"axis":{"y":"independent"}}
}
